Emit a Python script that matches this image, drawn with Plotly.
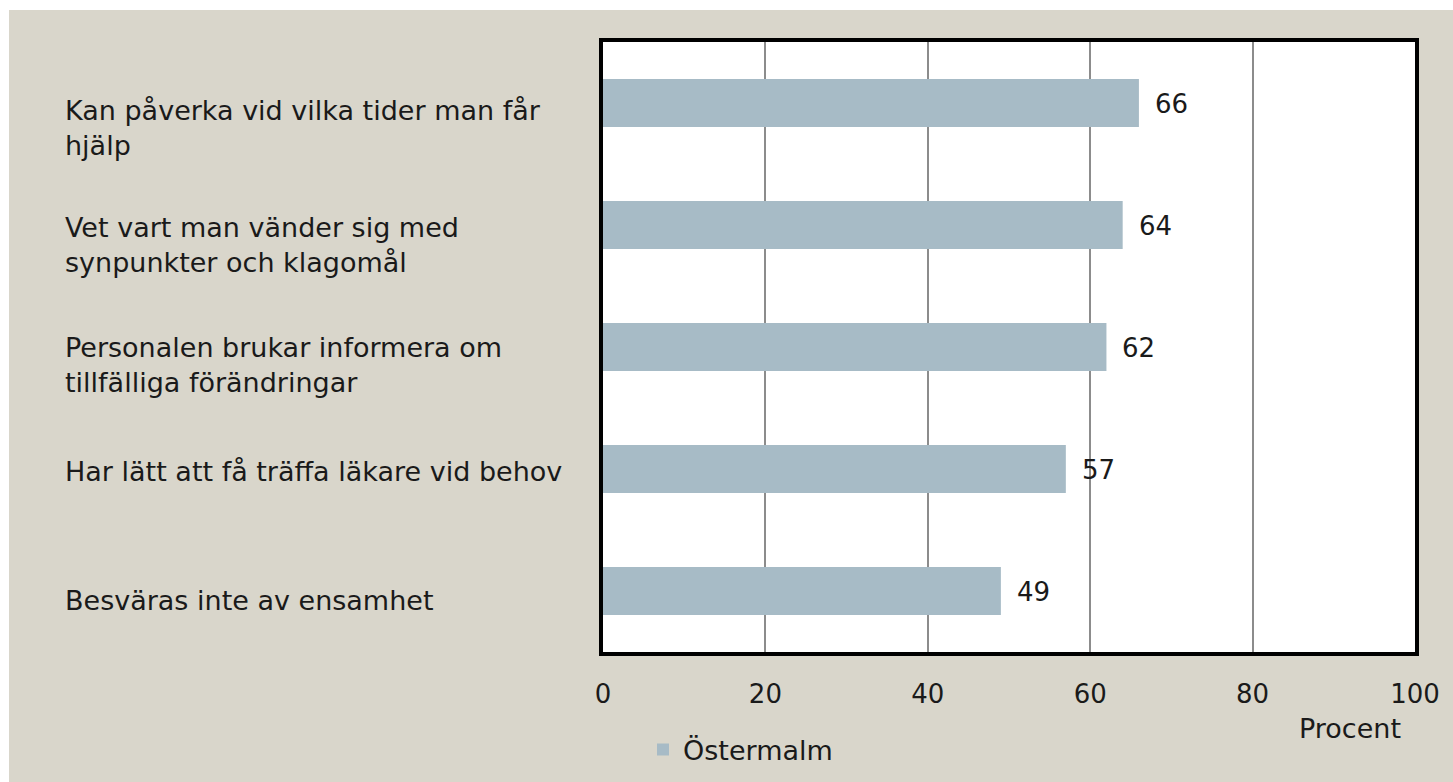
import plotly.graph_objects as go

# ---- data ----
categories = [
    "Kan påverka vid vilka tider man får<br>hjälp",
    "Vet vart man vänder sig med<br>synpunkter och klagomål",
    "Personalen brukar informera om<br>tillfälliga förändringar",
    "Har lätt att få träffa läkare vid behov",
    "Besväras inte av ensamhet",
]
values = [66, 64, 62, 57, 49]
series_name = "Östermalm"
x_ticks = [0, 20, 40, 60, 80, 100]
x_title = "Procent"

# ---- layout tuning (pixels) ----
W, H = 1453, 782
ML, MR, MT, MB = 603, 38, 42, 130
label_dy = [25, 20, 18, 2, 9]   # downward offset of category label vs bar centre
FONT = "DejaVu Sans"
FS = 27      # word text
FSN = 26     # numbers
BEIGE = "#D9D6CB"
BAR = "#A7BBC6"
TXT = "#1a1a1a"

pw = W - ML - MR
ph = H - MT - MB

def px_to_xpaper(px):
    return (px - ML) / pw

def px_to_ypaper(py):
    return (H - MB - py) / ph

fig = go.Figure()
fig.add_trace(go.Bar(
    y=categories, x=values, orientation="h", name=series_name,
    marker=dict(color=BAR, line=dict(width=0)),
    hoverinfo="x+y",
))

annotations = []
for cat, v, dy in zip(categories, values, label_dy):
    annotations.append(dict(
        x=px_to_xpaper(63), xref="paper", y=cat, yref="y",
        text=cat, showarrow=False, xanchor="left", yanchor="middle",
        align="left", yshift=-dy,
        font=dict(family=FONT, size=FS, color=TXT),
    ))
    annotations.append(dict(
        x=v, xref="x", y=cat, yref="y", text=str(v), showarrow=False,
        xanchor="left", yanchor="middle", xshift=14, yshift=-1,
        font=dict(family=FONT, size=FSN, color=TXT),
    ))
annotations.append(dict(
    x=px_to_xpaper(1350), xref="paper", y=px_to_ypaper(728), yref="paper",
    text=x_title, showarrow=False, xanchor="center", yanchor="middle",
    font=dict(family=FONT, size=FS, color=TXT),
))

shapes = [
    dict(type="rect", xref="paper", yref="paper", layer="below",
         x0=px_to_xpaper(9), x1=px_to_xpaper(W + 5),
         y0=px_to_ypaper(H + 5), y1=px_to_ypaper(10),
         fillcolor=BEIGE, line=dict(width=0)),
    dict(type="rect", xref="paper", yref="paper", layer="below",
         x0=0, x1=1, y0=0, y1=1, fillcolor="white", line=dict(width=0)),
]

fig.update_layout(
    width=W, height=H,
    margin=dict(l=ML, r=MR, t=MT, b=MB, pad=0, autoexpand=False),
    paper_bgcolor="white", plot_bgcolor="white",
    font=dict(family=FONT, size=FS, color=TXT),
    bargap=0.607,
    showlegend=True,
    legend=dict(orientation="h", x=px_to_xpaper(643), xanchor="left",
                y=px_to_ypaper(750), yanchor="middle",
                bgcolor="rgba(0,0,0,0)", font=dict(family=FONT, size=FS),
                itemwidth=30),
    annotations=annotations,
    shapes=shapes,
)
fig.update_xaxes(
    range=[0, 100], tickvals=x_ticks, ticks="", showgrid=True,
    gridcolor="#8C8C8C", gridwidth=1.5, zeroline=False,
    showline=True, linecolor="black", linewidth=4, mirror=True,
    tickfont=dict(family=FONT, size=FSN, color=TXT),
    ticklabelstandoff=16, automargin=False,
)
fig.update_yaxes(
    autorange="reversed", showticklabels=False, ticks="", showgrid=False,
    showline=True, linecolor="black", linewidth=4, mirror=True,
    automargin=False,
)

fig.write_html(
    "out.html",
    config={"displayModeBar": False},
    post_script="document.body.style.margin='0';document.body.style.overflow='hidden';",
)
